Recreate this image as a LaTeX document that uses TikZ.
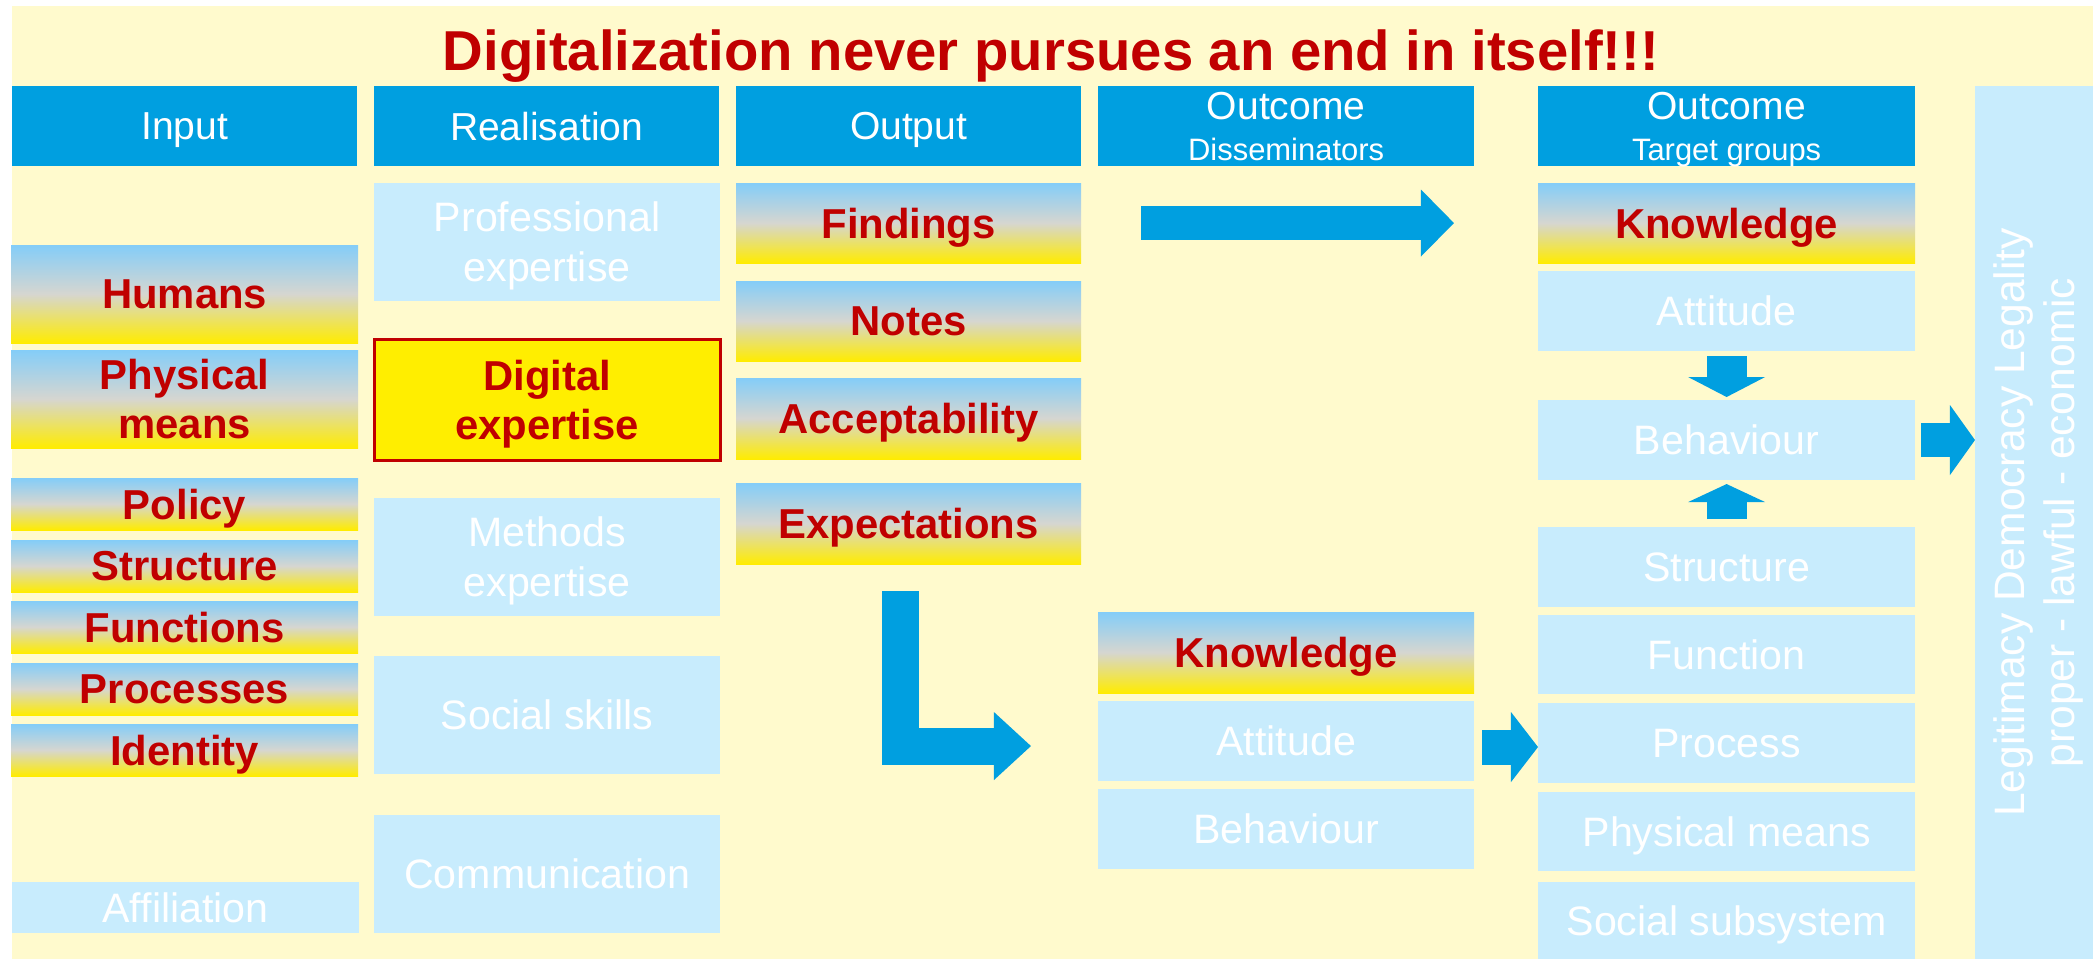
\documentclass[tikz,border=0pt]{standalone}
\usepackage{fontspec}
\setmainfont{Liberation Sans}
\usepackage{tikz}
\usetikzlibrary{arrows.meta}
\definecolor{bgyellow}{HTML}{FFFACD}
\definecolor{hdrblue}{HTML}{009FE0}
\definecolor{paleblue}{HTML}{C8ECFD}
\definecolor{darkred}{HTML}{C00000}
\definecolor{gtop}{HTML}{84CDF8}
\definecolor{gmid}{HTML}{D6D6D0}
\definecolor{gbot}{HTML}{FFEC00}
\definecolor{digyellow}{HTML}{FFEE00}

\begin{document}
\begin{tikzpicture}[
    x=0.01cm, y=-0.01cm,
    every node/.style={inner sep=0pt, outer sep=0pt, align=center, anchor=north west, text depth=0pt},
    header box/.style={fill=hdrblue, text=white, minimum height=0.8cm, font=\fontsize{11.1}{11.7}\selectfont},
    grad box/.style={top color=gtop, bottom color=gbot, middle color=gmid, text=darkred, font=\bfseries\fontsize{11.9}{14}\selectfont},
    pale box/.style={fill=paleblue, text=white, font=\fontsize{11.7}{14.2}\selectfont},
    col in/.style={minimum width=3.47cm},
    col real/.style={minimum width=3.46cm},
    col out/.style={minimum width=3.45cm},
    col dis/.style={minimum width=3.76cm},
    col tg/.style={minimum width=3.77cm},
    block arrow/.style={draw=hdrblue, line width=0.34cm, -{Triangle[length=0.33cm, width=0.67cm, line width=0pt]}}
    ]

    % page and background
    \useasboundingbox (0,0) rectangle (2093,959);
    \fill[bgyellow] (12,6) rectangle (2093,959);
    \node[anchor=base, text=darkred, font=\bfseries\fontsize{16}{18}\selectfont] (title) at (1051,70) {Digitalization never pursues an end in itself!!!};

    % headers
    \node[header box, col real, minimum width=3.45cm] (hin) at (12,86) {Input};
    \node[header box, col real, minimum width=3.45cm] (hreal) at (374,86) {Realisation};
    \node[header box, col out] (hout) at (736,86) {Output};
    \node[header box, col dis] (hdis) at (1098,86) {Outcome\\{\fontsize{8.8}{11.7}\selectfont Disseminators}};
    \node[header box, col tg] (htg) at (1538,86) {Outcome\\{\fontsize{8.8}{11.7}\selectfont Target groups}};

    % input
    \node[grad box, col in, minimum height=0.98cm] (humans) at (11,245) {Humans};
    \node[grad box, col in, minimum height=0.98cm] (physical) at (11,350) {Physical\\means};
    \node[grad box, col in, minimum height=0.52cm] (policy) at (11,478) {Policy};
    \node[grad box, col in, minimum height=0.52cm] (structure) at (11,540) {Structure};
    \node[grad box, col in, minimum height=0.52cm] (functions) at (11,601) {Functions};
    \node[grad box, col in, minimum height=0.52cm] (processes) at (11,663) {Processes};
    \node[grad box, col in, minimum height=0.52cm] (identity) at (11,724) {Identity};
    \node[pale box, col in, minimum height=0.51cm] (affiliation) at (12,882) {Affiliation};

    % realisation
    \node[pale box, col real, minimum height=1.18cm] (professional) at (374,183) {Professional\\expertise};
    \node[fill=digyellow, draw=darkred, line width=0.03cm, text=darkred, col real, minimum height=1.21cm,
          font=\bfseries\fontsize{11.9}{14}\selectfont] (digital) at (374,339) {Digital\\expertise};
    \node[pale box, col real, minimum height=1.18cm] (methods) at (374,498) {Methods\\expertise};
    \node[pale box, col real, minimum height=1.18cm] (social) at (374,656) {Social skills};
    \node[pale box, col real, minimum height=1.18cm] (communication) at (374,815) {Communication};

    % output
    \node[grad box, col out, minimum height=0.80cm] (findings) at (736,183) {Findings};
    \node[grad box, col out, minimum height=0.80cm] (notes) at (736,281) {Notes};
    \node[grad box, col out, minimum height=0.81cm] (accept) at (736,378) {Acceptability};
    \node[grad box, col out, minimum height=0.81cm] (expect) at (736,483) {Expectations};

    % outcome disseminators
    \node[grad box, col dis, minimum height=0.81cm] (dknow) at (1098,612) {Knowledge};
    \node[pale box, col dis, minimum height=0.80cm] (datt) at (1098,701) {Attitude};
    \node[pale box, col dis, minimum height=0.80cm] (dbeh) at (1098,789) {Behaviour};

    % outcome target groups
    \node[grad box, col tg, minimum height=0.80cm] (tknow) at (1538,183) {Knowledge};
    \node[pale box, col tg, minimum height=0.80cm] (tatt) at (1538,271) {Attitude};
    \node[pale box, col tg, minimum height=0.80cm] (tbeh) at (1538,400) {Behaviour};
    \node[pale box, col tg, minimum height=0.80cm] (tstruct) at (1538,527) {Structure};
    \node[pale box, col tg, minimum height=0.79cm] (tfunc) at (1538,615) {Function};
    \node[pale box, col tg, minimum height=0.80cm] (tproc) at (1538,703) {Process};
    \node[pale box, col tg, minimum height=0.79cm] (tphys) at (1538,792) {Physical means};
    \node[pale box, col tg, minimum height=0.77cm] (tsocial) at (1538,882) {Social subsystem};

    % legitimacy
    \node[fill=paleblue, text=white, rotate=90, anchor=center, minimum width=8.73cm, minimum height=1.18cm,
          font=\fontsize{12.1}{14.2}\selectfont] (legit) at (2034,522.5) {Legitimacy Democracy Legality\\proper - lawful - economic};

    % arrows
    \draw[block arrow, shorten <=0.6cm, shorten >=0.84cm] (findings.east) -- (tknow.west);
    \draw[block arrow, line width=0.37cm, -{Triangle[length=0.37cm, width=0.68cm, line width=0pt]}]
        ([xshift=-0.08cm, yshift=-0.27cm]expect.south) |- ([xshift=-0.67cm, yshift=-0.05cm]datt.west);
    \draw[block arrow, line width=0.35cm, -{Triangle[length=0.27cm, width=0.70cm, line width=0pt]}, shorten <=0.08cm]
        ([yshift=-0.06cm]datt.east) -- ([yshift=-0.06cm]datt.east -| tproc.west);
    \draw[block arrow, line width=0.40cm, -{Triangle[length=0.20cm, width=0.77cm, line width=0pt]}, shorten <=0.05cm, shorten >=0.03cm]
        (tatt.south) -- (tbeh.north);
    \draw[block arrow, line width=0.40cm, -{Triangle[length=0.18cm, width=0.77cm, line width=0pt]}, shorten <=0.08cm, shorten >=0.04cm]
        (tstruct.north) -- (tbeh.south);
    \draw[block arrow, -{Triangle[length=0.25cm, width=0.70cm, line width=0pt]}, shorten <=0.06cm]
        (tbeh.east) -- (tbeh.east -| legit.north);
\end{tikzpicture}
\end{document}
